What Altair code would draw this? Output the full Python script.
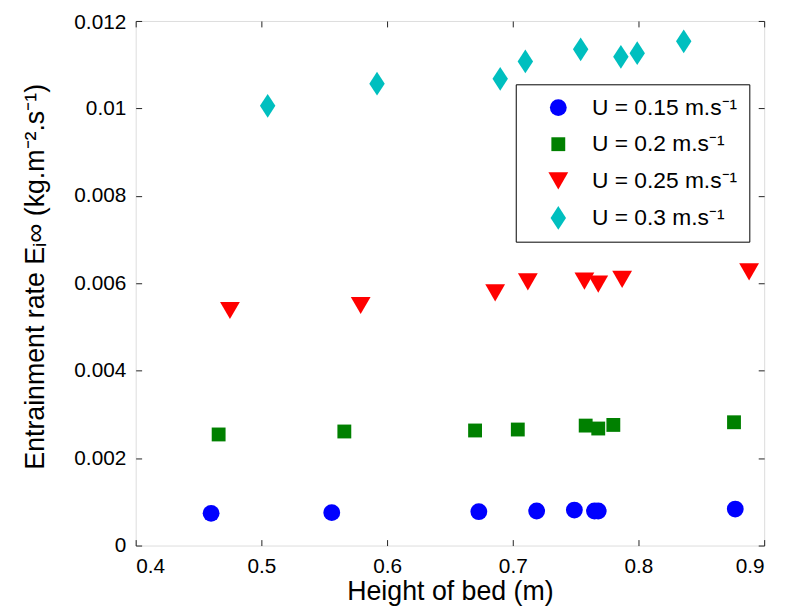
import altair as alt
import pandas as pd

series = ["U = 0.15 m.s\u207b\u00b9", "U = 0.2 m.s\u207b\u00b9", "U = 0.25 m.s\u207b\u00b9", "U = 0.3 m.s\u207b\u00b9"]
colors = ["#0000FF", "#008000", "#FF0000", "#00BFBF"]
shapes = ["circle", "square", "triangle-down", "M0,-1L0.65,0L0,1L-0.65,0Z"]
sizes = [289, 196, 400, 576]

h_015 = [0.460, 0.556, 0.673, 0.719, 0.749, 0.765, 0.768, 0.877]
e_015 = [0.000737, 0.000752, 0.000774, 0.00079, 0.000812, 0.00079, 0.00079, 0.000835]
h_020 = [0.466, 0.566, 0.670, 0.704, 0.758, 0.768, 0.780, 0.876]
e_020 = [0.002541, 0.002609, 0.002632, 0.002654, 0.002744, 0.002677, 0.002759, 0.00282]
h_025 = [0.475, 0.579, 0.686, 0.712, 0.757, 0.768, 0.787, 0.888]
e_025 = [0.005376, 0.00549, 0.00578, 0.00603, 0.00605, 0.00598, 0.00609, 0.00626]
h_030 = [0.505, 0.592, 0.690, 0.710, 0.754, 0.786, 0.799, 0.836]
e_030 = [0.01006, 0.010564, 0.010677, 0.011075, 0.011353, 0.01118, 0.011263, 0.011534]

x_ticks = [0.4, 0.5, 0.6, 0.7, 0.8, 0.9]
y_ticks = [0, 0.002, 0.004, 0.006, 0.008, 0.01, 0.012]

rows = []
for s, hs, es in zip(series, [h_015, h_020, h_025, h_030], [e_015, e_020, e_025, e_030]):
    for h, e in zip(hs, es):
        rows.append({"h": h, "e": e, "series": s})
df = pd.DataFrame(rows)

W, H = 635, 530
FONT = "Liberation Sans"

xs = alt.Scale(domain=[0.4, 0.9], nice=False, zero=False)
ys = alt.Scale(domain=[0, 0.012], nice=False, zero=False)

legend = alt.Legend(
    title=None, orient="none", legendX=384, legendY=64,
    strokeColor="black", fillColor="white", padding=12,
    symbolOffset=19, labelOffset=22, rowPadding=13,
    labelFont=FONT, labelFontSize=23, labelColor="black", labelLimit=400,
    symbolStrokeWidth=0, symbolOpacity=1,
)

base = alt.Chart(df)

points = base.mark_point(filled=True, opacity=1, strokeWidth=0).encode(
    x=alt.X("h:Q", scale=xs, axis=alt.Axis(
        title="Height of bed (m)", values=x_ticks, format=".1f", ticks=False,
        domain=False, grid=False, labelFont=FONT, labelFontSize=21,
        labelColor="black", labelPadding=10, titleFont=FONT, titleFontSize=27,
        titleFontWeight="normal", titleColor="black", titlePadding=3)),
    y=alt.Y("e:Q", scale=ys, axis=alt.Axis(
        title="Entrainment rate E\u1d62\u221e  (kg.m\u207b\u00b2.s\u207b\u00b9)", values=y_ticks,
        format="~g", ticks=False, domain=False, grid=False, labelFont=FONT,
        labelFontSize=21, labelColor="black", labelPadding=10,
        labelOffset={"condition": {"test": "datum.value > 0.0119", "value": 2}, "value": 0},
        titleFont=FONT, titleFontSize=27, titleFontWeight="normal",
        titleColor="black", titlePadding=25, titleY=258)),
    color=alt.Color("series:N", scale=alt.Scale(domain=series, range=colors), legend=legend),
    shape=alt.Shape("series:N", scale=alt.Scale(domain=series, range=shapes), legend=legend),
    size=alt.Size("series:N", scale=alt.Scale(type="ordinal", domain=series, range=sizes), legend=legend),
)


def tick_axis(values, orient, offset):
    return alt.Axis(values=values, orient=orient, offset=offset, labels=False,
                    domain=False, grid=False, title=None, ticks=True, tickSize=6,
                    tickColor="#222222", tickWidth=1)


ghost = base.mark_point(opacity=0)
t_bottom = ghost.encode(x=alt.X("h:Q", scale=xs, axis=tick_axis(x_ticks, "top", -H)),
                        y=alt.Y("e:Q", scale=ys, axis=None))
t_top = ghost.encode(x=alt.X("h:Q", scale=xs, axis=tick_axis(x_ticks, "bottom", -H)),
                     y=alt.Y("e:Q", scale=ys, axis=None))
t_left = ghost.encode(x=alt.X("h:Q", scale=xs, axis=None),
                      y=alt.Y("e:Q", scale=ys, axis=tick_axis(y_ticks, "right", -W)))
t_right = ghost.encode(x=alt.X("h:Q", scale=xs, axis=None),
                       y=alt.Y("e:Q", scale=ys, axis=tick_axis(y_ticks, "left", -W)))

chart = alt.layer(points, t_bottom, t_top, t_left, t_right).resolve_axis(
    x="independent", y="independent"
).properties(
    width=W, height=H, autosize=alt.AutoSizeParams(type="none"),
    padding={"left": 129, "top": 10, "right": 17, "bottom": 60},
).configure_view(stroke="black", strokeWidth=1.2).configure(background="white")

chart.save("out.html", embed_options={"renderer": "svg", "actions": False})
